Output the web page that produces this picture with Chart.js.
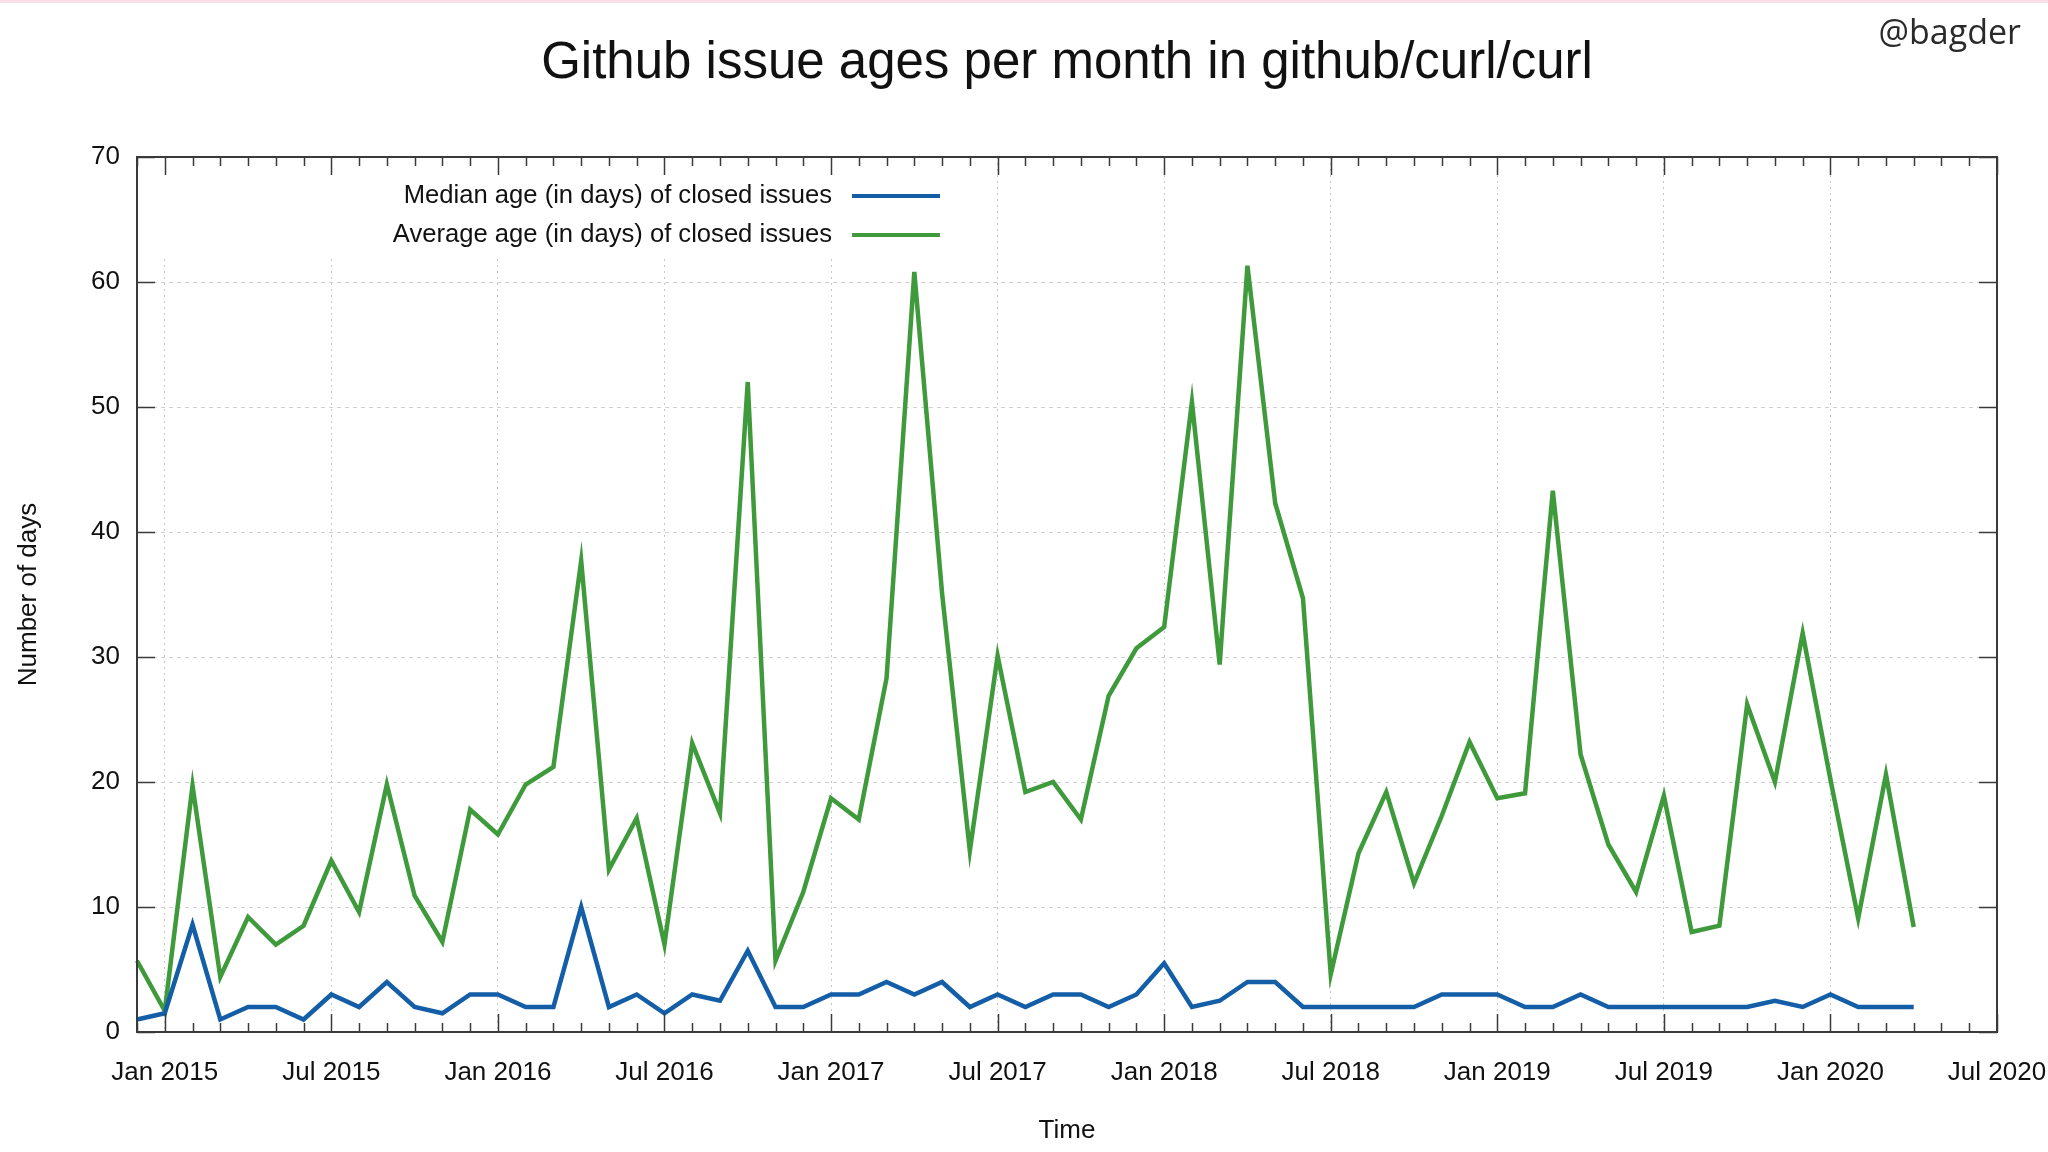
<!DOCTYPE html>
<html>
<head>
  <meta charset="utf-8">
  <title>Github issue ages per month in github/curl/curl</title>
  <script src="https://cdn.jsdelivr.net/npm/chart.js@4.4.1/dist/chart.umd.min.js"></script>
  <style>
    html, body { margin: 0; padding: 0; background: #fff; }
    #wrap { position: relative; width: 2048px; height: 1152px; overflow: hidden; }
    #topline { position: absolute; left: 0; top: 0; width: 2048px; height: 3px; background: #f9dfe7; }
    #title {
      position: absolute; left: 137px; width: 1860px; top: 30px;
      text-align: center; line-height: 61px;
      font-family: "Liberation Sans", Arial, sans-serif; font-size: 51px; color: #111;
    }
    #handle {
      position: absolute; right: 27px; top: 8px;
      font-family: "Open Sans", sans-serif; font-size: 34px; color: #2a2a2a;
    }
    canvas { position: absolute; left: 0; top: 0; }
  </style>
</head>
<body>
<div id="wrap">
  <canvas id="chart" width="2048" height="1152"></canvas>
  <div id="topline"></div>
  <div id="title">Github issue ages per month in github/curl/curl</div>
  <div id="handle">@bagder</div>
</div>
<script>
  // data (one value per month, Dec 2014 .. Apr 2020)
  var MONTHS = [
    'Dec 2014',
    'Jan 2015', 'Feb 2015', 'Mar 2015', 'Apr 2015', 'May 2015', 'Jun 2015',
    'Jul 2015', 'Aug 2015', 'Sep 2015', 'Oct 2015', 'Nov 2015', 'Dec 2015',
    'Jan 2016', 'Feb 2016', 'Mar 2016', 'Apr 2016', 'May 2016', 'Jun 2016',
    'Jul 2016', 'Aug 2016', 'Sep 2016', 'Oct 2016', 'Nov 2016', 'Dec 2016',
    'Jan 2017', 'Feb 2017', 'Mar 2017', 'Apr 2017', 'May 2017', 'Jun 2017',
    'Jul 2017', 'Aug 2017', 'Sep 2017', 'Oct 2017', 'Nov 2017', 'Dec 2017',
    'Jan 2018', 'Feb 2018', 'Mar 2018', 'Apr 2018', 'May 2018', 'Jun 2018',
    'Jul 2018', 'Aug 2018', 'Sep 2018', 'Oct 2018', 'Nov 2018', 'Dec 2018',
    'Jan 2019', 'Feb 2019', 'Mar 2019', 'Apr 2019', 'May 2019', 'Jun 2019',
    'Jul 2019', 'Aug 2019', 'Sep 2019', 'Oct 2019', 'Nov 2019', 'Dec 2019',
    'Jan 2020', 'Feb 2020', 'Mar 2020', 'Apr 2020', 'May 2020', 'Jun 2020',
    'Jul 2020'
  ];

  var MEDIAN = [
    1.0,
    1.5, 8.6, 1.0, 2.0, 2.0, 1.0, 3.0, 2.0, 4.0, 2.0, 1.5, 3.0,
    3.0, 2.0, 2.0, 10.0, 2.0, 3.0, 1.5, 3.0, 2.5, 6.5, 2.0, 2.0,
    3.0, 3.0, 4.0, 3.0, 4.0, 2.0, 3.0, 2.0, 3.0, 3.0, 2.0, 3.0,
    5.5, 2.0, 2.5, 4.0, 4.0, 2.0, 2.0, 2.0, 2.0, 2.0, 3.0, 3.0,
    3.0, 2.0, 2.0, 3.0, 2.0, 2.0, 2.0, 2.0, 2.0, 2.0, 2.5, 2.0,
    3.0, 2.0, 2.0, 2.0
  ];

  var AVERAGE = [
    5.7,
    1.7, 19.7, 4.4, 9.2, 7.0, 8.5, 13.7, 9.6, 19.8, 10.9, 7.2, 17.8,
    15.8, 19.8, 21.2, 37.7, 13.0, 17.1, 7.0, 23.1, 17.5, 52.0, 5.7, 11.2,
    18.7, 17.0, 28.3, 60.8, 35.1, 14.5, 30.1, 19.2, 20.0, 17.0, 26.9, 30.7,
    32.4, 50.4, 29.4, 61.3, 42.3, 34.7, 4.6, 14.3, 19.2, 11.9, 17.3, 23.2,
    18.7, 19.1, 43.3, 22.2, 15.0, 11.2, 18.9, 8.0, 8.5, 26.2, 20.0, 31.9,
    20.2, 9.1, 20.6, 8.4
  ];

  var Y_MIN = 0, Y_MAX = 70, Y_STEP = 10;

  var BLUE = '#135ea6'
    , GREEN = '#3e9a3b'
    , INK = '#111'
    , FONT = '"Liberation Sans", Arial, sans-serif';

  function isMajor(label) {
    return /^(Jan|Jul) /.test(label);
  }

  // gnuplot look: key with white box, frame, inward tics on all sides
  var gnuplotFrame = {
    id: 'gnuplotFrame',

    beforeDatasetsDraw: function(chart) {
      var ctx = chart.ctx, a = chart.chartArea;
      ctx.save();
      ctx.fillStyle = '#fff';
      ctx.fillRect(a.left, a.top, 808, 98);

      ctx.font = '25.6px ' + FONT;
      ctx.textAlign = 'right';
      ctx.textBaseline = 'middle';
      var rowY = a.top + 39;
      chart.data.datasets.forEach(function(ds) {
        ctx.fillStyle = INK;
        ctx.fillText(ds.label, a.left + 695, rowY);
        ctx.strokeStyle = ds.borderColor;
        ctx.lineWidth = 4;
        ctx.beginPath();
        ctx.moveTo(a.left + 715, rowY);
        ctx.lineTo(a.left + 803, rowY);
        ctx.stroke();
        rowY += 39;
      });
      ctx.restore();
    },

    afterDatasetsDraw: function(chart) {
      var ctx = chart.ctx, a = chart.chartArea;
      var x = chart.scales.x, y = chart.scales.y;
      ctx.save();
      ctx.strokeStyle = '#3a3a3a';
      ctx.lineWidth = 1.5;
      ctx.beginPath();
      chart.data.labels.forEach(function(label, i) {
        var px = Math.round(x.getPixelForValue(i)) + 0.5;
        var len = isMajor(label) ? 18 : 9;
        ctx.moveTo(px, a.bottom); ctx.lineTo(px, a.bottom - len);
        ctx.moveTo(px, a.top); ctx.lineTo(px, a.top + len);
      });
      y.ticks.forEach(function(t) {
        var py = Math.round(y.getPixelForValue(t.value)) + 0.5;
        ctx.moveTo(a.left, py); ctx.lineTo(a.left + 18, py);
        ctx.moveTo(a.right, py); ctx.lineTo(a.right - 18, py);
      });
      ctx.stroke();

      ctx.lineWidth = 2;
      ctx.strokeRect(a.left, a.top, a.right - a.left, a.bottom - a.top);
      ctx.restore();
    }
  };

  var chart = new Chart(document.getElementById('chart'), {
    type: 'line',
    data: {
      labels: MONTHS,
      datasets: [
        {
          label: 'Median age (in days) of closed issues',
          data: MEDIAN,
          borderColor: BLUE,
          borderWidth: 4.5,
          pointRadius: 0,
          tension: 0,
          fill: false
        },
        {
          label: 'Average age (in days) of closed issues',
          data: AVERAGE,
          borderColor: GREEN,
          borderWidth: 4.5,
          pointRadius: 0,
          tension: 0,
          fill: false
        }
      ]
    },
    options: {
      responsive: false,
      animation: false,
      layout: { padding: { left: 0, right: 51, top: 157, bottom: 0 } },
      plugins: {
        legend: { display: false },
        tooltip: { enabled: false },
        title: { display: false }
      },
      scales: {
        x: {
          type: 'category',
          offset: false,
          border: { display: false, dash: [2, 4] },
          grid: {
            drawTicks: false,
            lineWidth: 1,
            color: function(c) {
              var label = MONTHS[c.index];
              return label && isMajor(label) ? '#c8c8c8' : 'rgba(0,0,0,0)';
            }
          },
          ticks: {
            autoSkip: false,
            maxRotation: 0,
            minRotation: 0,
            padding: 25,
            color: INK,
            font: { family: FONT, size: 26 },
            callback: function(value) {
              var label = this.getLabelForValue(value);
              return isMajor(label) ? label : '';
            }
          },
          title: {
            display: true,
            text: 'Time',
            color: INK,
            font: { family: FONT, size: 26 },
            padding: { top: 0, bottom: 6 }
          },
          afterFit: function(scale) {
            scale.height = 120;
            scale.paddingLeft = 0;
            scale.paddingRight = 0;
          }
        },
        y: {
          min: Y_MIN,
          max: Y_MAX,
          border: { display: false, dash: [4, 4] },
          grid: { drawTicks: false, color: '#d0d0d0', lineWidth: 1 },
          ticks: {
            stepSize: Y_STEP,
            padding: 17,
            color: INK,
            font: { family: FONT, size: 26 }
          },
          title: {
            display: true,
            text: 'Number of days',
            color: INK,
            font: { family: FONT, size: 26 },
            padding: { top: 13, bottom: 0 }
          },
          afterFit: function(scale) {
            scale.width = 137;
            scale.paddingTop = 0;
            scale.paddingBottom = 0;
          }
        }
      }
    },
    plugins: [gnuplotFrame]
  });
</script>
</body>
</html>
